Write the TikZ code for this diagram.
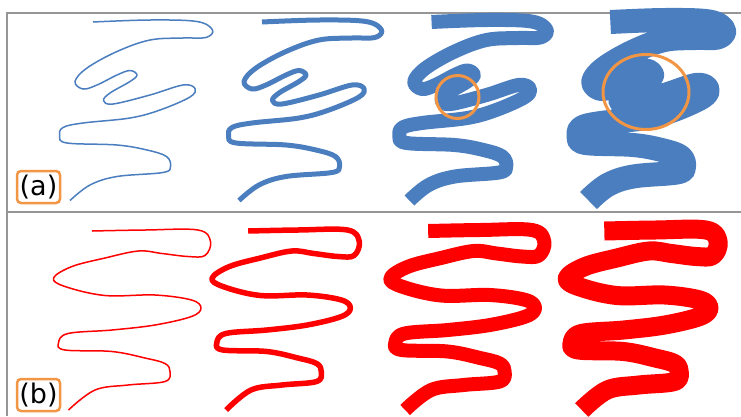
\documentclass[tikz,border=0pt]{standalone}
\usepackage{fontspec}
\setmainfont{DejaVu Sans}
\definecolor{cblue}{RGB}{74,126,190}
\definecolor{cred}{RGB}{255,0,0}
\definecolor{corange}{RGB}{242,150,70}
\definecolor{cframe}{RGB}{150,150,150}
\newcommand\curveA{plot[smooth,tension=0.6] coordinates {(93,22) (150,20) (197,21.5) (212.5,30) (206,37.5) (183,38) (150,40) (117,51.5) (87,68) (75,81.5) (83,89) (97,85) (117,75) (130,70.5) (137,75) (130,81.5) (110,93) (103.5,100.5) (113,104) (150,95) (183,85) (195,88.5) (190,97) (160,110) (130,118) (83,123) (63,127.5) (59.5,136) (67,143) (117,145) (147,150) (166.5,156.5) (170.5,166.5) (163,172.5) (117,176.5) (90,185) (70,200.5)}}
\newcommand\curveB{plot[smooth,tension=0.6] coordinates {(92,231) (145,230) (198,230) (210.5,241.5) (205,255.5) (188,256.5) (162,253.5) (138.5,251) (105,258) (72,266.5) (53.5,278) (65,286.5) (105,295.5) (155,295) (191.5,300) (201,308) (191.5,316.5) (155,325) (112,330) (68,333.5) (58.5,343) (65,350) (112,351.5) (145,358) (165,363.5) (170,371.5) (165,381.5) (128,385) (95,390) (68.5,410)}}
\tikzset{
  frameline/.style={draw=cframe, line width=1.4pt},
  bluecurve/.style={draw=cblue, line join=round, line cap=butt},
  redcurve/.style={draw=cred, line join=round, line cap=butt},
  marker/.style={draw=corange, line width=3pt},
  tagbox/.style={draw=corange, line width=2.5pt, rounded corners=4pt, minimum width=43pt, minimum height=32pt, inner sep=0pt, font=\fontsize{27}{29}\selectfont}
}
\begin{document}
\begin{tikzpicture}[x=1pt,y=-1pt]
\useasboundingbox (0,0) rectangle (741,416);
% frames
\draw[frameline] (741,13) -- (7,13) -- (7,416);
\draw[frameline] (7,212) -- (741,212);
% panel (a)
\draw[bluecurve, line width=1.5pt] \curveA;
\draw[bluecurve, line width=5pt, xshift=169pt] \curveA;
\draw[bluecurve, line width=14pt, xshift=342pt, xscale=0.963] \curveA;
\draw[bluecurve, line width=24pt, xshift=522pt, xscale=0.95] \curveA;
\draw[marker] (457.5,97) circle [radius=21.5pt];
\draw[marker] (646,92) ellipse [x radius=43pt, y radius=37.5pt];
% panel (b)
\draw[redcurve, line width=1.5pt] \curveB;
\draw[redcurve, line width=5.5pt, xshift=162pt, xscale=0.937] \curveB;
\draw[redcurve, line width=14pt, xshift=338pt, xscale=0.98] \curveB;
\draw[redcurve, line width=19pt, xshift=516pt, xscale=0.96] \curveB;
% labels
\node[tagbox] (la) at (38.5,187) {(a)};
\node[tagbox] (lb) at (38.5,395) {(b)};
\end{tikzpicture}
\end{document}
